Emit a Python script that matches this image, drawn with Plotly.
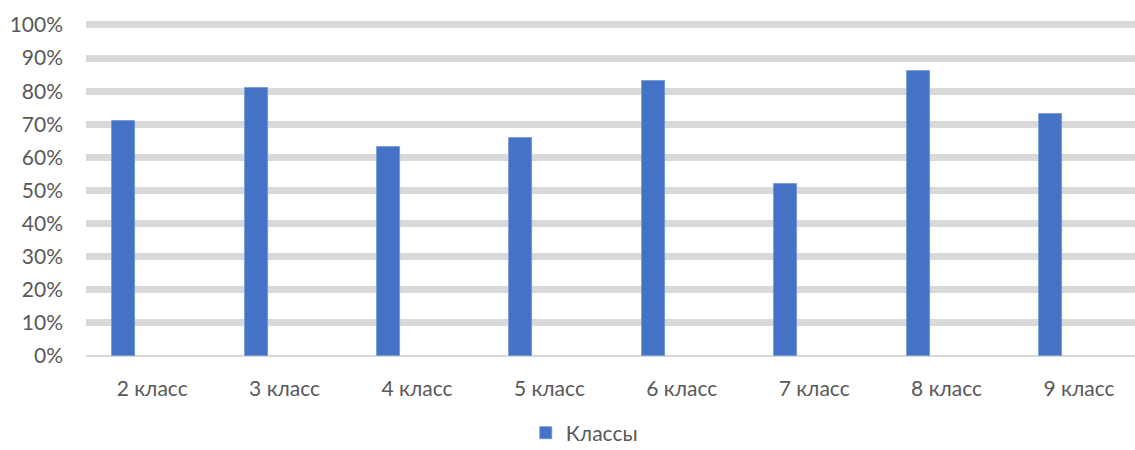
import plotly.graph_objects as go

categories = ["2 класс", "3 класс", "4 класс", "5 класс", "6 класс", "7 класс", "8 класс", "9 класс"]
values = [0.71, 0.81, 0.63, 0.66, 0.83, 0.52, 0.86, 0.73]
series_name = "Классы"
y_ticks = [i / 10 for i in range(11)]
y_tick_labels = [f"{i*10}%" for i in range(11)]

W, H = 1135, 450
L, R, T, B = 86, 0, 21, 94
cat_px = 132.4
n_vis = (W - L - R) / cat_px

x_idx = list(range(len(categories)))

fig = go.Figure()
fig.add_trace(go.Bar(
    x=x_idx, y=values, name=series_name,
    width=23 / cat_px, offset=-40 / cat_px,
    marker=dict(color="#4472C4", line=dict(color="#6f93d6", width=0.8)),
    showlegend=True,
))

font_family = "Lato, 'Open Sans', sans-serif"
fs = 21
fig.update_layout(
    width=W, height=H,
    margin=dict(l=L, r=R, t=T, b=B, autoexpand=False),
    plot_bgcolor="white", paper_bgcolor="white",
    font=dict(family=font_family, size=fs, color="#595959"),
    bargap=0,
    xaxis=dict(
        range=[-0.5, -0.5 + n_vis],
        tickvals=x_idx, ticktext=categories,
        showgrid=False, zeroline=False, showline=False,
        ticks="", ticklabelstandoff=18, automargin=False,
        tickfont=dict(size=fs, color="#595959"),
    ),
    yaxis=dict(
        range=[0, 1.012],
        tickvals=y_ticks, ticktext=y_tick_labels,
        showgrid=True, gridcolor="#d9d9d9", gridwidth=7,
        zeroline=True, zerolinecolor="#d9d9d9", zerolinewidth=1.5,
        showline=False, ticks="", ticklabelstandoff=22, automargin=False,
        tickfont=dict(size=fs, color="#595959"),
    ),
    legend=dict(
        orientation="h", x=0.475, xanchor="center", y=-0.23, yanchor="middle",
        font=dict(size=fs, color="#595959"),
        itemwidth=30,
    ),
)

fig.write_html(
    "out.html",
    config={"displayModeBar": False},
    post_script="document.body.style.margin='0';document.body.style.overflow='hidden';",
)
